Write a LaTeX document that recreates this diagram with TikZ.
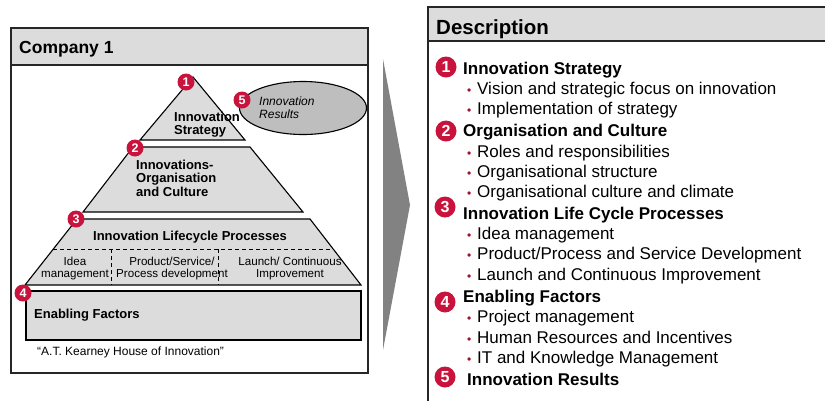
\documentclass[tikz,border=0pt]{standalone}
\usepackage{fontspec}
\setmainfont{Liberation Sans}
\usetikzlibrary{shapes.geometric}
\definecolor{hdr}{HTML}{DCDCDC}
\definecolor{crim}{HTML}{C8143C}
\definecolor{ellg}{HTML}{BEBEBE}
\definecolor{arrg}{HTML}{828282}
\definecolor{bul}{HTML}{A01028}
\definecolor{frame}{HTML}{262626}
\begin{document}
\begin{tikzpicture}[x=1pt,y=-1pt,
  txt/.style={inner sep=0pt, anchor=base west},
  ctxt/.style={inner sep=0pt, anchor=base},
  boxline/.style={draw=frame, line width=1.4pt},
  pyr/.style={draw=black, line width=1.1pt, fill=hdr},
  numsm/.style={circle, fill=crim, inner sep=0pt, minimum size=17pt, text=white, font=\fontsize{12.5}{12.5}\selectfont\bfseries},
  numlg/.style={circle, fill=crim, inner sep=0pt, minimum size=21pt, text=white, font=\fontsize{16}{16}\selectfont\bfseries},
  ftitle/.style={font=\fontsize{17.5}{20}\selectfont\bfseries},
  fdesc/.style={font=\fontsize{20.5}{24}\selectfont\bfseries},
  fpyr/.style={font=\fontsize{13}{15}\selectfont\bfseries},
  fsub/.style={font=\fontsize{11.6}{13}\selectfont},
  fhead/.style={font=\fontsize{17}{20}\selectfont\bfseries},
  fitem/.style={font=\fontsize{17}{20}\selectfont},
  bulletdot/.style={inner sep=0pt, anchor=base west, text=bul, font=\fontsize{12}{14}\selectfont},
]
\useasboundingbox (0,0) rectangle (825,400);

% ---------- left box ----------
\draw[boxline, fill=white] (11,28) rectangle (368,373);
\draw[boxline, fill=hdr] (11,28) rectangle (368,65);
\node[txt, ftitle] (company) at (19,53) {Company 1};

% pyramid
\draw[pyr] (193,77) -- (245,140) -- (140,140) -- cycle;
\draw[pyr] (133,147) -- (250,147) -- (303,212) -- (83,212) -- cycle;
\draw[pyr] (77,219) -- (310,219) -- (361,285) -- (25,285) -- cycle;
\draw[black, line width=1pt, dash pattern=on 4pt off 3pt] (53.4,249) -- (333,249);
\draw[black, line width=1pt, dash pattern=on 4pt off 3pt] (111,249) -- (111,285);
\draw[black, line width=1pt, dash pattern=on 4pt off 3pt] (218,249) -- (218,285);
\draw[pyr] (26,291) rectangle (361,340);

% ellipse
\node[ellipse, draw=black, line width=1.1pt, fill=ellg, minimum width=127pt, minimum height=53pt] (res) at (303,108) {};
\node[txt, font=\fontsize{12}{14}\selectfont\itshape] (resA) at (259,105) {Innovation};
\node[txt, font=\fontsize{12}{14}\selectfont\itshape] (resB) at (259,118) {Results};

% pyramid texts
\node[txt, fpyr] (stA) at (174,121) {Innovation};
\node[txt, fpyr] (stB) at (174,134) {Strategy};
\node[txt, fpyr] (orA) at (136,169) {Innovations-};
\node[txt, fpyr] (orB) at (136,182.5) {Organisation};
\node[txt, fpyr] (orC) at (136,196) {and Culture};
\node[ctxt, fpyr] (lc) at (190,240) {Innovation Lifecycle Processes};
\node[ctxt, fsub] (idA) at (75,265) {Idea};
\node[ctxt, fsub] (idB) at (75,277) {management};
\node[ctxt, fsub] (prA) at (172,265) {Product/Service/};
\node[ctxt, fsub] (prB) at (172,277) {Process development};
\node[ctxt, fsub] (laA) at (290,265) {Launch/ Continuous};
\node[ctxt, fsub] (laB) at (290,277) {Improvement};
\node[txt, fpyr] (enab) at (34,318) {Enabling Factors};
\node[txt, font=\fontsize{12}{14}\selectfont] (kear) at (37,355) {“A.T. Kearney House of Innovation”};

% small numbers
\node[numsm] (n1) at (186,82) {1};
\node[numsm] (n5) at (242,100) {5};
\node[numsm] (n2) at (135,148) {2};
\node[numsm] (n3) at (76,219) {3};
\node[numsm] (n4) at (23,293) {4};

% ---------- arrow ----------
\fill[arrg] (383,59) -- (410,205) -- (383,350) -- cycle;

% ---------- right box ----------
\draw[boxline, fill=white] (428,7) rectangle (840,415);
\draw[boxline, fill=hdr] (428,7) rectangle (840,41);
\node[txt, fdesc] (desc) at (436,34) {Description};

\node[numlg] (m1) at (446,67) {1};
\node[txt, fhead] (h1) at (463,74) {Innovation Strategy};
\node[bulletdot] (b11) at (467,94) {•};
\node[txt, fitem] (i11) at (477,94) {Vision and strategic focus on innovation};
\node[bulletdot] (b12) at (467,114) {•};
\node[txt, fitem] (i12) at (477,114) {Implementation of strategy};

\node[numlg] (m2) at (446,131) {2};
\node[txt, fhead] (h2) at (463,136) {Organisation and Culture};
\node[bulletdot] (b21) at (467,157) {•};
\node[txt, fitem] (i21) at (477,157) {Roles and responsibilities};
\node[bulletdot] (b22) at (467,177) {•};
\node[txt, fitem] (i22) at (477,177) {Organisational structure};
\node[bulletdot] (b23) at (467,197) {•};
\node[txt, fitem] (i23) at (477,197) {Organisational culture and climate};

\node[numlg] (m3) at (445,207) {3};
\node[txt, fhead] (h3) at (463,219) {Innovation Life Cycle Processes};
\node[bulletdot] (b31) at (467,239) {•};
\node[txt, fitem] (i31) at (477,239) {Idea management};
\node[bulletdot] (b32) at (467,259) {•};
\node[txt, fitem] (i32) at (477,259) {Product/Process and Service Development};
\node[bulletdot] (b33) at (467,280) {•};
\node[txt, fitem] (i33) at (477,280) {Launch and Continuous Improvement};

\node[numlg] (m4) at (445,302) {4};
\node[txt, fhead] (h4) at (463,302) {Enabling Factors};
\node[bulletdot] (b41) at (467,322) {•};
\node[txt, fitem] (i41) at (477,322) {Project management};
\node[bulletdot] (b42) at (467,343) {•};
\node[txt, fitem] (i42) at (477,343) {Human Resources and Incentives};
\node[bulletdot] (b43) at (467,363) {•};
\node[txt, fitem] (i43) at (477,363) {IT and Knowledge Management};

\node[numlg] (m5) at (445,377) {5};
\node[txt, fhead] (h5) at (467,385) {Innovation Results};
\end{tikzpicture}
\end{document}
